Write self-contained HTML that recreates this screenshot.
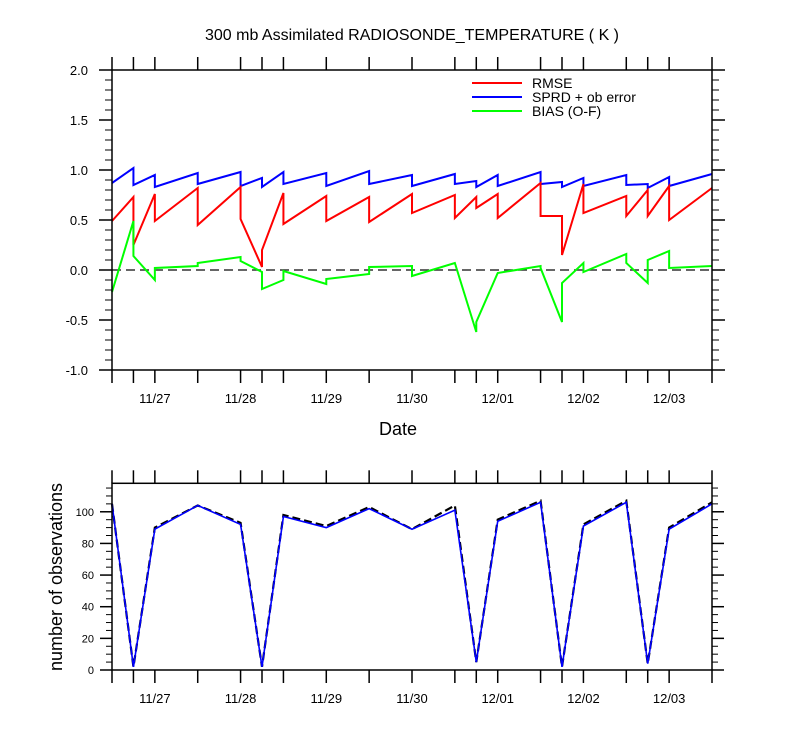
<!DOCTYPE html>
<html><head><meta charset="utf-8">
<style>
body{margin:0;background:#fff;}
svg{display:block;font-family:"Liberation Sans",sans-serif;}
</style></head>
<body>
<svg id="chart" width="800" height="750" viewBox="0 0 800 750">
<text x="412" y="40" font-size="16" text-anchor="middle">300 mb Assimilated RADIOSONDE_TEMPERATURE ( K )</text>
<text x="398" y="435" font-size="18" text-anchor="middle">Date</text>
<text transform="translate(62,577) rotate(-90)" font-size="18" text-anchor="middle">number of observations</text>
<g>
<line x1="472" y1="83" x2="522" y2="83" stroke="#f00" stroke-width="2"/>
<text x="532" y="88" font-size="14">RMSE</text>
<line x1="472" y1="97" x2="522" y2="97" stroke="#00f" stroke-width="2"/>
<text x="532" y="102" font-size="14">SPRD + ob error</text>
<line x1="472" y1="111" x2="522" y2="111" stroke="#0f0" stroke-width="2"/>
<text x="532" y="116" font-size="14">BIAS (O-F)</text>
</g>
</svg>
<script>
// hours since 11/26 12Z
const times = [0,6,12,24,36,42,48,60,72,84,96,102,108,120,126,132,144,150,156,168];
const dayLabels = ["11/27","11/28","11/29","11/30","12/01","12/02","12/03"];
const dayHours = [12,36,60,84,108,132,156];
// value arriving at each time (end of previous segment) and leaving (start of next)
const rmseIn  = [null,0.73,0.76,0.82,0.83,0.03,0.77,0.74,0.73,0.76,0.75,0.73,0.76,0.87,0.54,0.86,0.74,0.80,0.84,0.82];
const rmseOut = [0.49,0.25,0.49,0.45,0.51,0.20,0.46,0.49,0.48,0.57,0.52,0.62,0.52,0.54,0.15,0.57,0.54,0.54,0.50,null];
const sprdIn  = [null,1.02,0.95,0.97,0.98,0.92,0.98,0.97,0.99,0.95,0.96,0.89,0.95,0.98,0.88,0.92,0.95,0.86,0.93,0.96];
const sprdOut = [0.87,0.85,0.83,0.86,0.84,0.83,0.86,0.84,0.86,0.84,0.86,0.83,0.84,0.86,0.83,0.84,0.85,0.82,0.84,null];
const biasIn  = [null,0.49,-0.10,0.04,0.13,-0.02,-0.10,-0.14,-0.04,0.04,0.07,-0.62,-0.03,0.04,-0.52,0.07,0.16,-0.13,0.19,0.04];
const biasOut = [-0.22,0.14,0.02,0.07,0.09,-0.19,-0.01,-0.09,0.03,-0.06,0.07,-0.52,-0.03,0.02,-0.13,-0.02,0.07,0.10,0.02,null];
const obsUsed  = [105,2,89,104,92,2,97,90,102,89,101,5,94,106,2,91,106,4,89,105];
const obsTotal = [105,2,90,104,93,2,98,91,103,89,104,5,95,107,2,92,107,4,90,106];
const topTicks = [-1.0,-0.5,0.0,0.5,1.0,1.5,2.0];

const svg=document.getElementById('chart');
const NS='http://www.w3.org/2000/svg';
const X0=112,X1=712,T1=168;
const xs=h=>X0+(X1-X0)*h/T1;
const yTop=v=>270-100*v;
const yBot=v=>670-(670-483.3)*v/118;
function mk(tag,attrs,parent){const e=document.createElementNS(NS,tag);for(const k in attrs)e.setAttribute(k,attrs[k]);(parent||svg).appendChild(e);return e;}
function line(x1,y1,x2,y2,w,g){return mk('line',{x1,y1,x2,y2,stroke:'#000','stroke-width':w||1.2},g);}

const zl=mk('line',{x1:X0,y1:yTop(0),x2:X1,y2:yTop(0),stroke:'#333','stroke-width':1.6,'stroke-dasharray':'9,5'});



function sawPath(inA,outA){
  let d='';
  for(let i=0;i<times.length;i++){
    const x=xs(times[i]);
    if(inA[i]!==null) d+=(d?'L':'M')+x+','+yTop(inA[i]);
    if(outA[i]!==null) d+=(d?'L':'M')+x+','+yTop(outA[i]);
  }
  return d;
}
const series=[[sprdIn,sprdOut,'#00f','series-sprd'],[rmseIn,rmseOut,'#f00','series-rmse'],[biasIn,biasOut,'#0f0','series-bias']];
for(const s of series){
  const p=mk('path',{d:sawPath(s[0],s[1]),fill:'none',stroke:s[2],'stroke-width':2,'stroke-linejoin':'miter'});
  
  
}
function obsPath(arr){return arr.map((v,i)=>(i?'L':'M')+xs(times[i])+','+yBot(v)).join('');}
const pt=mk('path',{d:obsPath(obsTotal),fill:'none',stroke:'#000','stroke-width':2.2,'stroke-dasharray':'8,4'});


const pu=mk('path',{d:obsPath(obsUsed),fill:'none',stroke:'#00f','stroke-width':1.6});



function frame(yT,yB,name){
  const r=mk('rect',{x:X0,y:yT,width:X1-X0,height:yB-yT,fill:'none',stroke:'#000','stroke-width':1.5});
  
  
}
frame(70,370,'top-plot-frame');
frame(483.3,670,'bottom-plot-frame');

for(const [yT,yB] of [[70,370],[483.3,670]]){
  for(const h of times){
    const x=xs(h);
    line(x,yT,x,yT-13,1.5);
    line(x,yB,x,yB+13,1.5);
  }
  dayHours.forEach((h,i)=>{
    const t=mk('text',{x:xs(h),y:yB+33,'font-size':13,'text-anchor':'middle'});
    t.textContent=dayLabels[i];
    
    
  });
}
for(let k=-10;k<=20;k++){
  const v=k/10,y=yTop(v),major=(k%5===0);
  const L=major?13:7;
  line(X0-L,y,X0,y,major?1.5:1);
  line(X1,y,X1+L,y,major?1.5:1);
}
topTicks.forEach(v=>{
  const t=mk('text',{x:88,y:yTop(v)+5,'font-size':13,'text-anchor':'end'});
  t.textContent=v.toFixed(1);
  
  
});
for(let v=0;v<=115;v+=5){
  const y=yBot(v),major=(v%20===0);
  const L=major?12:6;
  line(X0-L,y,X0,y,major?1.5:1);
  line(X1,y,X1+L,y,major?1.5:1);
  if(major&&v<=100){
    const t=mk('text',{x:94,y:y+4,'font-size':11,'text-anchor':'end'});
    t.textContent=String(v);
    
    
  }
}
</script>
</body></html>
